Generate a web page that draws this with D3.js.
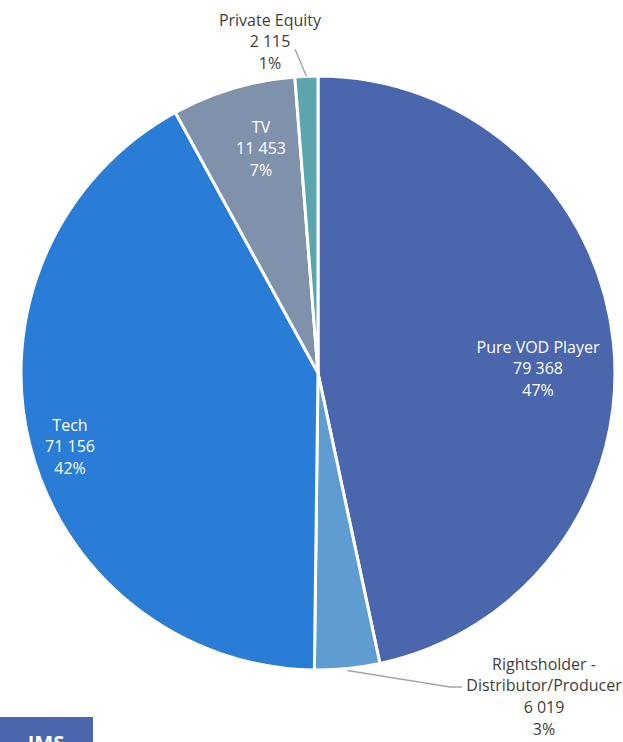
<!DOCTYPE html>
<html><head><meta charset="utf-8">
<script src="https://cdn.jsdelivr.net/npm/d3@7"></script>
<style>body{margin:0;background:#fff}svg{display:block}</style>
</head><body>
<script>
const categories = ["Pure VOD Player","Rightsholder - Distributor/Producer","Tech","TV","Private Equity"];
const values = [79368, 6019, 71156, 11453, 2115];
const valueLabels = ["79 368","6 019","71 156","11 453","2 115"];
const pctLabels = ["47%","3%","42%","7%","1%"];
const colors = ["#4A66AC","#5F9CD2","#2A7DD6","#8091AC","#5AA5AE"];

const W=623,H=742, cx=318, cy=373, R=297;
const svg=d3.select("body").append("svg").attr("width",W).attr("height",H);
svg.append("rect").attr("width",W).attr("height",H).attr("fill","#fff");
const g=svg.append("g").attr("transform",`translate(${cx},${cy})`);
const pie=d3.pie().sort(null).value(d=>d)(values);
const arc=d3.arc().innerRadius(0).outerRadius(R);
g.selectAll("path").data(pie).join("path")
 .attr("d",arc).attr("fill",(d,i)=>colors[i])
 .attr("stroke","#fff").attr("stroke-width",3).attr("stroke-linejoin","round");

const font="'Open Sans', sans-serif";
const labelPos = [
  {x:538,y:347,c:"#fff",lines:["Pure VOD Player",valueLabels[0],pctLabels[0]]},
  {x:544,y:664,c:"#404040",lines:["Rightsholder -","Distributor/Producer",valueLabels[1],pctLabels[1]]},
  {x:70,y:425,c:"#fff",lines:["Tech",valueLabels[2],pctLabels[2]]},
  {x:261,y:127,c:"#fff",lines:["TV",valueLabels[3],pctLabels[3]]},
  {x:270,y:20,c:"#404040",lines:["Private Equity",valueLabels[4],pctLabels[4]]}
];
const lp = (d,f)=>{const a=(d.startAngle+d.endAngle)/2; return [cx+R*f*Math.sin(a), cy-R*f*Math.cos(a)];};
const pe=lp(pie[4],1.0), rh=lp(pie[1],1.0);
svg.append("polyline").attr("points",`${pe[0]},${pe[1]} 295,49`).attr("fill","none").attr("stroke","#A6A6A6").attr("stroke-width",1.5);
svg.append("polyline").attr("points",`${rh[0]},${rh[1]+2} 450,687 462,687`).attr("fill","none").attr("stroke","#A6A6A6").attr("stroke-width",1.5);

labelPos.forEach(p=>{
  const t=svg.append("text").attr("text-anchor","middle").attr("font-family",font).attr("font-size",16).attr("fill",p.c);
  p.lines.forEach((l,i)=>t.append("tspan").attr("x",p.x).attr("y",p.y+i*21.7).attr("dy","0.35em").text(l));
});

svg.append("rect").attr("x",0).attr("y",717).attr("width",93).attr("height",30).attr("fill","#4A66AC");
svg.append("text").attr("x",46).attr("y",750).attr("text-anchor","middle").attr("font-family",font).attr("font-weight","bold").attr("font-size",20).attr("fill","#fff").text("IMS");
</script>
</body></html>
